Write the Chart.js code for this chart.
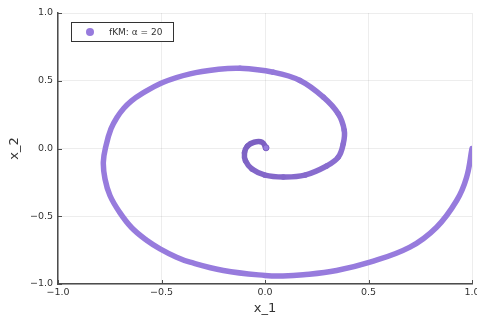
<!DOCTYPE html>
<html>
<head>
<meta charset="utf-8">
<script src="https://cdn.jsdelivr.net/npm/chart.js@4.4.1/dist/chart.umd.min.js"></script>
<style>
  html, body { margin: 0; padding: 0; background: #fff; }
  #wrap { width: 477px; height: 320px; }
</style>
</head>
<body>
<div id="wrap"><canvas id="myChart" width="477" height="320"></canvas></div>
<script>
// spiral trajectory, in order from the outer start (1, 0) to the centre
const xs = [1.0, 0.974, 0.926, 0.829, 0.700, 0.507, 0.346, 0.185, 0.087, 0.0,
    -0.201, -0.362, -0.427, -0.507, -0.572, -0.645, -0.704, -0.749, -0.773, -0.781,
    -0.768, -0.744, -0.716, -0.682, -0.645, -0.602, -0.491, -0.362, -0.233, -0.121,
    0.040, 0.169, 0.282, 0.354, 0.383, 0.378, 0.354, 0.298, 0.193, 0.088,
    0.0, -0.063, -0.094, -0.099, -0.085, -0.053, -0.014, 0.005]
const ys = [0.0, -0.212, -0.384, -0.581, -0.728, -0.839, -0.900, -0.932, -0.941, -0.937,
    -0.900, -0.839, -0.802, -0.740, -0.677, -0.583, -0.467, -0.347, -0.224, -0.101,
    0.022, 0.145, 0.227, 0.297, 0.352, 0.398, 0.489, 0.551, 0.583, 0.592,
    0.563, 0.502, 0.379, 0.256, 0.133, 0.035, -0.064, -0.129, -0.196, -0.210,
    -0.196, -0.151, -0.092, -0.030, 0.018, 0.046, 0.046, 0.005]
const tickValues = [-1.0, -0.5, 0.0, 0.5, 1.0]
const seriesLabel = 'fKM: α = 20'
const xTitle = 'x_1'
const yTitle = 'x_2'

const purple = [151, 123, 221]
const purpleDark = [124, 96, 194]
const axisColor = '#4d4d4d'
const textColor = '#333333'
const font = 'DejaVu Sans'

const points = xs.map((x, i) => ({x: x, y: ys[i]}))
const last = points.length - 1

const fmt = (v) => (v < 0 ? '\u2212' : '') + Math.abs(v).toFixed(1)
const rgb = (c) => 'rgb(' + c.join(',') + ')'

// markers get denser towards the centre, so the stroke darkens gradually
function shade(i) {
    const t = Math.min(Math.max((i - 28) / 16, 0), 1)
    return rgb(purple.map((v, k) => Math.round(v + (purpleDark[k] - v) * t)))
}

// inward tick marks and the boxed legend, like the original plot
const extras = {
    id: 'extras',
    afterDraw: (chart) => {
        const ctx = chart.ctx
        const area = chart.chartArea
        const sx = chart.scales.x
        const sy = chart.scales.y
        ctx.save()
        ctx.strokeStyle = axisColor
        ctx.lineWidth = 1
        tickValues.forEach((v) => {
            const px = Math.round(sx.getPixelForValue(v)) + 0.5
            ctx.beginPath()
            ctx.moveTo(px, area.bottom)
            ctx.lineTo(px, area.bottom - 4)
            ctx.stroke()
            const py = Math.round(sy.getPixelForValue(v)) + 0.5
            ctx.beginPath()
            ctx.moveTo(area.left, py)
            ctx.lineTo(area.left + 4, py)
            ctx.stroke()
        })

        // legend
        ctx.fillStyle = '#ffffff'
        ctx.fillRect(71.5, 22.5, 102, 19)
        ctx.strokeStyle = textColor
        ctx.strokeRect(71.5, 22.5, 102, 19)
        ctx.fillStyle = rgb(purple)
        ctx.beginPath()
        ctx.arc(90, 32, 4, 0, Math.PI * 2)
        ctx.fill()
        ctx.fillStyle = textColor
        ctx.font = '9px "' + font + '"'
        ctx.textBaseline = 'middle'
        ctx.textAlign = 'left'
        ctx.fillText(seriesLabel, 109, 32.5)
        ctx.restore()
    }
}

const ctx = document.getElementById('myChart').getContext('2d')
new Chart(ctx, {
    type: 'scatter',
    data: {
        datasets: [{
            label: seriesLabel,
            data: points,
            showLine: true,
            tension: 0.4,
            borderColor: rgb(purple),
            borderWidth: 5.5,
            borderCapStyle: 'round',
            borderJoinStyle: 'round',
            backgroundColor: 'rgb(150,125,222)',
            pointRadius: (c) => c.dataIndex === last ? 3 : 0,
            pointBorderWidth: (c) => c.dataIndex === last ? 1 : 0,
            pointBorderColor: rgb(purpleDark),
            segment: {
                borderColor: (c) => shade(c.p0DataIndex)
            }
        }]
    },
    options: {
        responsive: false,
        animation: false,
        layout: {
            padding: {top: 13, right: 5, bottom: 0, left: 0}
        },
        plugins: {
            legend: {display: false},
            tooltip: {enabled: false}
        },
        scales: {
            x: {
                type: 'linear',
                min: -1,
                max: 1,
                afterBuildTicks: (scale) => { scale.ticks = tickValues.map(v => ({value: v})) },
                afterFit: (scale) => {
                    scale.height = 36
                    scale.paddingLeft = 0
                    scale.paddingRight = 0
                },
                ticks: {
                    callback: (v) => fmt(v),
                    color: textColor,
                    font: {family: font, size: 9.5},
                    padding: 3,
                    maxRotation: 0
                },
                grid: {
                    color: 'rgba(0,0,0,0.07)',
                    drawTicks: false
                },
                border: {display: true, color: axisColor, width: 1.5},
                title: {
                    display: true,
                    text: xTitle,
                    color: textColor,
                    font: {family: font, size: 13},
                    padding: {top: 2, bottom: 4}
                }
            },
            y: {
                type: 'linear',
                min: -1,
                max: 1,
                afterBuildTicks: (scale) => { scale.ticks = tickValues.map(v => ({value: v})) },
                afterFit: (scale) => {
                    scale.width = 58
                },
                ticks: {
                    callback: (v) => fmt(v),
                    color: textColor,
                    font: {family: font, size: 9.5},
                    padding: 5
                },
                grid: {
                    color: 'rgba(0,0,0,0.07)',
                    drawTicks: false
                },
                border: {display: true, color: axisColor, width: 1.5},
                title: {
                    display: true,
                    text: yTitle,
                    color: textColor,
                    font: {family: font, size: 13},
                    padding: {top: 7, bottom: 2}
                }
            }
        }
    },
    plugins: [extras]
})
</script>
</body>
</html>
